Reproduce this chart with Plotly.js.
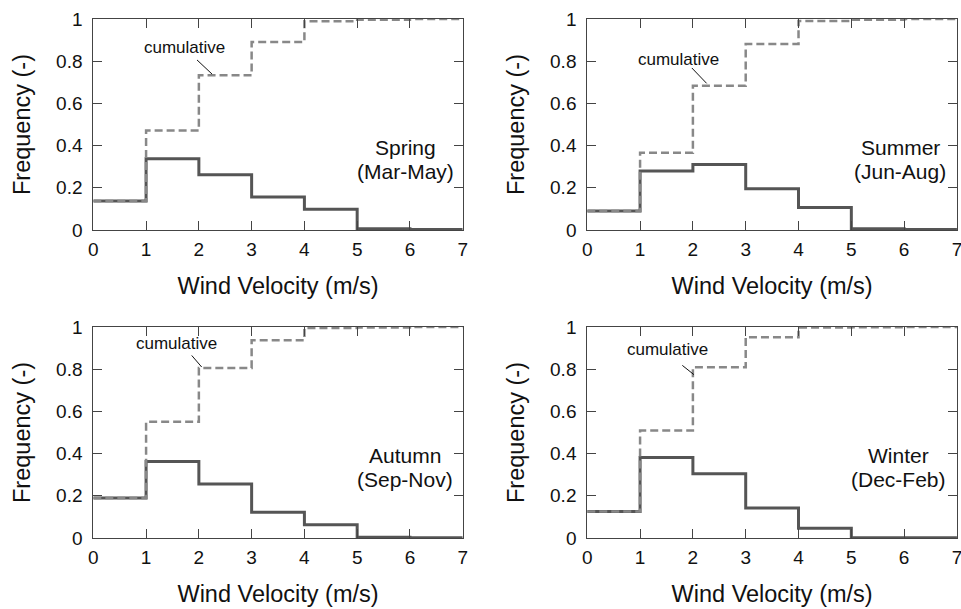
<!DOCTYPE html>
<html>
<head>
<meta charset="utf-8">
<script src="https://cdn.plot.ly/plotly-3.0.1.min.js"></script>
<style>html,body{margin:0;padding:0;background:#fff;}#chart{width:961px;height:609px;}</style>
</head>
<body>
<div id="chart"></div>
<script>
// Bin edges (wind velocity, m/s)
const binEdges = [0, 1, 2, 3, 4, 5, 6, 7];
const seasons = ["Spring", "Summer", "Autumn", "Winter"];
const seasonMonths = ["(Mar-May)", "(Jun-Aug)", "(Sep-Nov)", "(Dec-Feb)"];
// Frequency per 1 m/s bin
const springFreq = [0.137, 0.338, 0.262, 0.156, 0.098, 0.006, 0.002];
const summerFreq = [0.090, 0.280, 0.311, 0.196, 0.107, 0.006, 0.002];
const autumnFreq = [0.190, 0.362, 0.256, 0.122, 0.063, 0.003, 0.001];
const winterFreq = [0.125, 0.381, 0.305, 0.142, 0.046, 0.001, 0.001];
// Cumulative frequency
const springCum = [0.137, 0.472, 0.733, 0.891, 0.989, 0.997, 1.0];
const summerCum = [0.090, 0.366, 0.684, 0.881, 0.990, 0.996, 1.0];
const autumnCum = [0.190, 0.551, 0.806, 0.937, 0.995, 0.998, 1.0];
const winterCum = [0.125, 0.509, 0.809, 0.951, 0.998, 0.999, 1.0];
const xTicks = [0, 1, 2, 3, 4, 5, 6, 7];
const yTicks = [0, 0.2, 0.4, 0.6, 0.8, 1];
const yTickText = ["0", "0.2", "0.4", "0.6", "0.8", "1"];
const cumLabel = "cumulative";
const xTitle = "Wind Velocity (m/s)";
const yTitle = "Frequency (-)";

const freqs = [springFreq, summerFreq, autumnFreq, winterFreq];
const cums = [springCum, summerCum, autumnCum, winterCum];

// Layout geometry (paper fractions)
const xDomains = [[0.0971, 0.4815], [0.6111, 0.9958]];
const yDomains = [[0.6223, 0.9688], [0.1166, 0.4631]];
// Annotation placement (data coords) per panel
const cumText = [[1.72, 0.865], [1.735, 0.81], [1.58, 0.921], [1.52, 0.892]];
const cumLine = [[1.965, 0.806, 2.25, 0.739], [1.98, 0.768, 2.26, 0.695], [1.865, 0.865, 2.054, 0.81], [1.80, 0.818, 2.02, 0.774]];
const seasonPos = [[5.91, 0.39, 0.277], [5.93, 0.393, 0.279], [5.90, 0.39, 0.276], [5.90, 0.393, 0.279]];

const font = "Liberation Sans, Arial, sans-serif";
const frameColor = "#444";
const traces = [];
const layout = {
  width: 961, height: 609,
  margin: {l: 0, r: 0, t: 0, b: 0},
  paper_bgcolor: "#fff", plot_bgcolor: "#fff",
  showlegend: false,
  font: {family: font, color: "#111"},
  annotations: [], shapes: []
};

function stepY(arr) { return arr.concat([arr[arr.length - 1]]); }

for (let i = 0; i < 4; i++) {
  const n = i === 0 ? "" : String(i + 1);
  const xa = "x" + n, ya = "y" + n;
  const col = i % 2, row = Math.floor(i / 2);
  traces.push({
    x: binEdges, y: stepY(freqs[i]), xaxis: xa, yaxis: ya,
    type: "scatter", mode: "lines",
    line: {shape: "hv", color: "#555", width: 3},
    cliponaxis: false, hoverinfo: "skip"
  });
  traces.push({
    x: binEdges, y: stepY(cums[i]), xaxis: xa, yaxis: ya,
    type: "scatter", mode: "lines",
    line: {shape: "hv", color: "#888", width: 2.5, dash: "8px,4px"},
    cliponaxis: false, hoverinfo: "skip"
  });
  layout["xaxis" + n] = {
    domain: xDomains[col], anchor: ya, range: [0, 7],
    tickvals: xTicks, ticktext: xTicks.map(String),
    ticks: "inside", ticklen: 9, tickcolor: frameColor, tickwidth: 1,
    showline: true, linecolor: frameColor, linewidth: 1, mirror: "ticks",
    showgrid: false, zeroline: false, fixedrange: true,
    tickfont: {size: 19, family: font, color: "#111"},
    ticklabelstandoff: 2, ticklabeloverflow: "allow",
    title: {text: xTitle, font: {size: 23.5, family: font, color: "#111"}, standoff: 18},
    automargin: false
  };
  layout["yaxis" + n] = {
    domain: yDomains[row], anchor: xa, range: [0, 1],
    tickvals: yTicks, ticktext: yTickText,
    ticks: "inside", ticklen: 9, tickcolor: frameColor, tickwidth: 1,
    showline: true, linecolor: frameColor, linewidth: 1, mirror: "ticks",
    showgrid: false, zeroline: false, fixedrange: true,
    tickfont: {size: 19, family: font, color: "#111"},
    ticklabelstandoff: 6, ticklabeloverflow: "allow",
    title: {text: yTitle, font: {size: 23.5, family: font, color: "#111"}, standoff: 18},
    automargin: false
  };
  layout.annotations.push({
    xref: xa, yref: ya, x: cumText[i][0], y: cumText[i][1],
    text: cumLabel, showarrow: false,
    font: {size: 17, family: font, color: "#111"},
    xanchor: "center", yanchor: "middle"
  });
  layout.annotations.push({
    xref: xa, yref: ya, x: seasonPos[i][0], y: seasonPos[i][1],
    text: seasons[i], showarrow: false,
    font: {size: 21, family: font, color: "#111"},
    xanchor: "center", yanchor: "middle"
  });
  layout.annotations.push({
    xref: xa, yref: ya, x: seasonPos[i][0], y: seasonPos[i][2],
    text: seasonMonths[i], showarrow: false,
    font: {size: 21, family: font, color: "#111"},
    xanchor: "center", yanchor: "middle"
  });
  layout.shapes.push({
    type: "line", xref: xa, yref: ya,
    x0: cumLine[i][0], y0: cumLine[i][1], x1: cumLine[i][2], y1: cumLine[i][3],
    line: {color: "#111", width: 1}
  });
}

Plotly.newPlot("chart", traces, layout, {displayModeBar: false, staticPlot: true});
</script>
</body>
</html>
